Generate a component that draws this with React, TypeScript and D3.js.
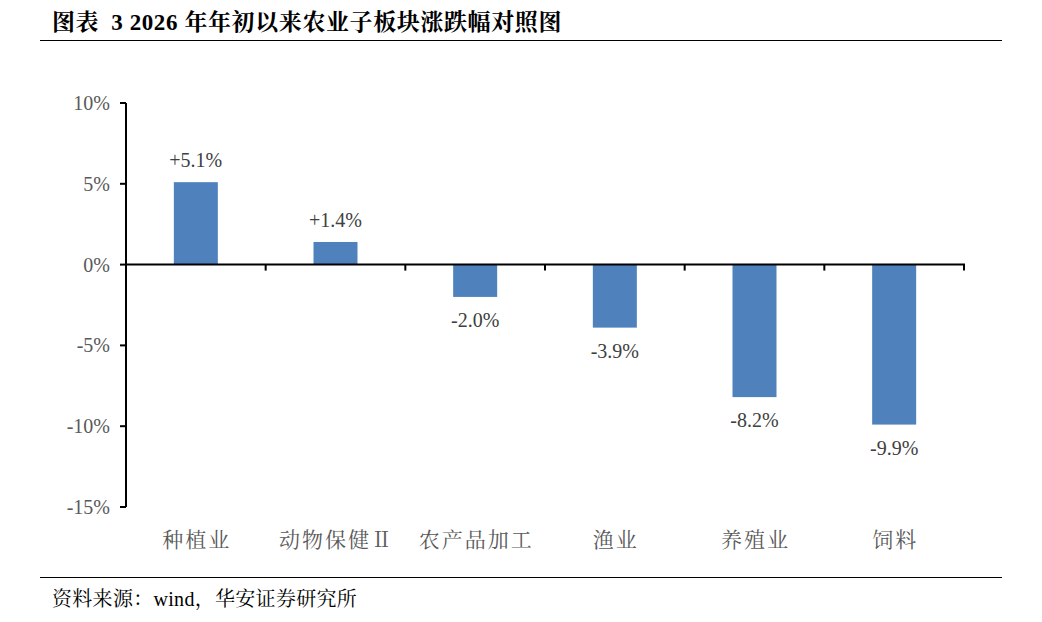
import React from "react";
import * as d3 from "d3";

const categories = ["种植业", "动物保健Ⅱ", "农产品加工", "渔业", "养殖业", "饲料"];
const values = [5.1, 1.4, -2.0, -3.9, -8.2, -9.9];
const labels = ["+5.1%", "+1.4%", "-2.0%", "-3.9%", "-8.2%", "-9.9%"];
const yTicks = [10, 5, 0, -5, -10, -15];

const W = 1042;
const H = 622;
const serif = "'Times New Roman', 'Liberation Serif', 'Noto Serif CJK SC', 'Noto Sans CJK SC', serif";

export default function App() {
  const x = d3.scaleBand<string>().domain(categories).range([126, 964]).paddingInner(0.685).paddingOuter(0.3425);
  const xb = d3.scaleBand<string>().domain(categories).range([126, 964]);
  const y = d3.scaleLinear().domain([-15, 10]).range([507, 103]);
  const y0 = y(0);
  const fmt = (v: number) => `${v}%`;

  return (
    <svg width={W} height={H} style={{ position: "absolute", left: 0, top: 0, background: "#fff" }}>
      <text x={52} y={30} fontFamily={serif} fontWeight="bold" fontSize={23} letterSpacing={0.6} fill="#000">
        <tspan>图表</tspan>
        <tspan dx={12}>3 2026 年年初以来农业子板块涨跌幅对照图</tspan>
      </text>
      <line x1={40} x2={1002} y1={40.5} y2={40.5} stroke="#000" strokeWidth={1.2} />

      {values.map((v, i) => {
        const c = categories[i];
        const top = Math.min(y(v), y0);
        const h = Math.abs(y(v) - y0);
        return (
          <rect key={c} x={x(c)!} y={top} width={x.bandwidth()} height={h} fill="#4F81BD" />
        );
      })}

      {/* y axis */}
      <line x1={126} x2={126} y1={103} y2={507} stroke="#000" strokeWidth={2} />
      {yTicks.map((t) => (
        <g key={t}>
          <line x1={120} x2={126} y1={y(t)} y2={y(t)} stroke="#000" strokeWidth={2} />
          <text x={110} y={y(t)} dy="0.35em" textAnchor="end" fontFamily={serif} fontSize={20} fill="#595959">
            {fmt(t)}
          </text>
        </g>
      ))}

      {/* x axis at zero */}
      <line x1={126} x2={965} y1={y0} y2={y0} stroke="#000" strokeWidth={2} />
      {categories.map((c) => (
        <line key={c} x1={xb(c)! + xb.bandwidth()} x2={xb(c)! + xb.bandwidth()} y1={y0} y2={y0 + 6} stroke="#000" strokeWidth={2} />
      ))}

      {values.map((v, i) => {
        const c = categories[i];
        const cx = x(c)! + x.bandwidth() / 2;
        const ly = v >= 0 ? y(v) - 15 : y(v) + 30;
        return (
          <text key={c} x={cx} y={ly} textAnchor="middle" fontFamily={serif} fontSize={20} fill="#404040">
            {labels[i]}
          </text>
        );
      })}

      {categories.map((c) => (
        <text key={c} x={xb(c)! + xb.bandwidth() / 2 + 1} y={547} textAnchor="middle" fontFamily={serif} fontSize={21} letterSpacing={2} fill="#595959">
          {c}
        </text>
      ))}

      <line x1={40} x2={1002} y1={577.5} y2={577.5} stroke="#000" strokeWidth={1.2} />
      <text x={52} y={606} fontFamily={serif} fontSize={20} letterSpacing={0.3} fill="#000">
        资料来源：wind，华安证券研究所
      </text>
    </svg>
  );
}
